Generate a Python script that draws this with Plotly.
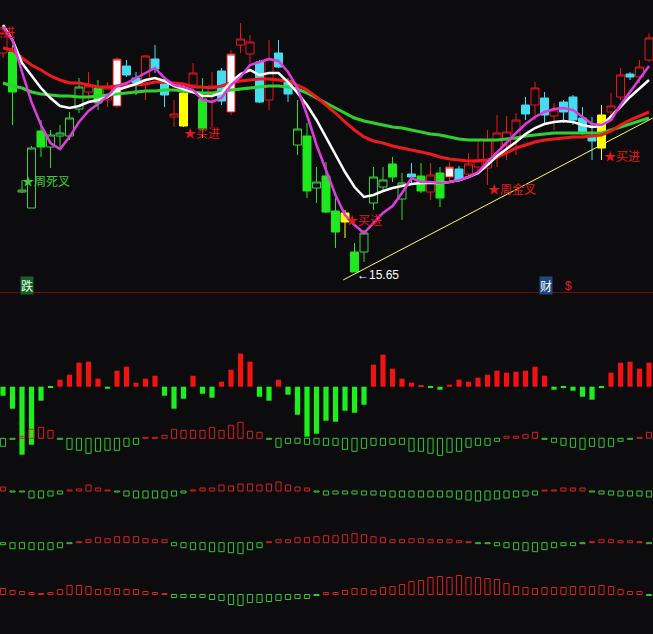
import plotly.graph_objects as go

W, H = 653, 634
BG = "#0c0c0e"

# ---------------- price data (69 sessions) ----------------
idx = list(range(69))

opens = [20.03, 20.05, 17.25, 16.93, 18.47, 18.15, 18.37, 18.37, 18.91, 19.25,
         19.33, 19.09, 18.97, 19.77, 19.53, 19.49, 19.91, 19.41, 18.75, 19.23,
         19.39, 19.11, 19.19, 19.67, 18.85, 20.19, 20.01, 19.85, 19.09, 20.03,
         19.47, 18.19, 18.37, 17.33, 17.57, 16.87, 16.83, 16.05, 16.05, 17.03,
         17.35, 17.81, 17.11, 17.61, 17.57, 17.25, 17.63, 17.55, 17.71, 17.61,
         17.75, 17.73, 17.99, 18.19, 18.35, 18.99, 18.99, 19.13, 18.77, 19.05,
         19.15, 18.73, 18.35, 18.13, 18.85, 19.15, 19.61, 19.55, 19.89]
highs = [20.59, 20.19, 17.49, 18.17, 18.69, 18.49, 18.59, 18.85, 19.53, 19.65,
         19.49, 19.45, 19.95, 19.89, 19.65, 19.99, 20.19, 19.55, 19.09, 19.39,
         19.83, 19.53, 19.65, 19.73, 20.09, 20.63, 20.39, 19.89, 20.29, 20.29,
         19.53, 19.09, 18.63, 17.75, 17.85, 17.13, 16.89, 16.23, 16.49, 17.75,
         17.75, 17.95, 17.63, 17.83, 17.83, 17.83, 17.75, 17.85, 17.77, 18.03,
         18.29, 18.49, 18.79, 18.77, 18.83, 19.15, 19.45, 19.25, 19.03, 19.09,
         19.19, 18.95, 18.75, 18.99, 19.23, 19.73, 19.65, 19.89, 20.43]
lows = [19.93, 18.59, 17.23, 16.93, 17.95, 17.73, 18.15, 18.29, 18.83, 19.09,
        18.89, 18.95, 18.93, 19.55, 19.19, 19.09, 19.63, 18.95, 18.55, 18.55,
        19.33, 18.33, 18.53, 18.99, 18.79, 20.03, 19.83, 19.03, 18.89, 19.73,
        19.05, 17.99, 17.13, 17.03, 16.83, 16.13, 16.33, 15.65, 15.85, 16.89,
        17.25, 17.45, 16.69, 17.43, 17.23, 17.09, 16.95, 17.43, 17.45, 17.55,
        17.59, 17.39, 17.75, 17.89, 17.99, 18.69, 18.69, 18.63, 18.49, 18.63,
        18.59, 18.39, 17.89, 17.89, 18.79, 19.09, 19.49, 19.43, 19.85]
closes = [20.43, 19.25, 17.29, 18.13, 18.15, 18.39, 18.43, 18.73, 19.35, 19.37,
          19.03, 19.33, 19.91, 19.59, 19.43, 19.97, 19.71, 19.19, 18.81, 18.57,
          19.63, 18.51, 19.37, 19.07, 20.01, 20.31, 20.25, 19.05, 19.91, 19.75,
          19.21, 18.51, 17.27, 17.45, 16.85, 16.45, 16.65, 15.65, 16.43, 17.55,
          17.49, 17.55, 17.43, 17.55, 17.27, 17.59, 17.13, 17.75, 17.49, 17.81,
          17.89, 18.29, 18.43, 18.45, 18.69, 18.81, 19.33, 18.79, 18.89, 18.85,
          18.69, 18.45, 18.27, 18.79, 18.97, 19.59, 19.55, 19.75, 20.33]
# candle colour class: r=red hollow, gh=green hollow, gf=green filled, c=cyan, w=white, y=yellow
styles = ["r", "gf", "gh", "gh", "gf", "gh", "gh", "gh", "gh", "r",
          "gf", "r", "w", "c", "c", "r", "c", "c", "r", "y",
          "r", "gf", "r", "c", "w", "r", "r", "c", "r", "c",
          "c", "gh", "gf", "gh", "gf", "gf", "y", "gf", "gh", "gh",
          "gh", "gf", "gh", "c", "gf", "r", "gf", "w", "c", "r",
          "r", "r", "r", "r", "r", "c", "r", "c", "r", "c",
          "c", "c", "c", "y", "r", "r", "c", "r", "r"]

ma_magenta = [20.55, 20.29, 19.65, 19.05, 18.59, 18.23, 18.11, 18.35, 18.65, 18.87,
              19.01, 19.17, 19.37, 19.43, 19.53, 19.63, 19.73, 19.53, 19.39, 19.35,
              19.29, 19.09, 19.05, 19.13, 19.39, 19.55, 19.79, 19.85, 19.91, 19.87,
              19.65, 19.33, 18.79, 18.19, 17.69, 17.19, 16.79, 16.59, 16.43, 16.63,
              16.83, 16.97, 17.23, 17.53, 17.45, 17.45, 17.43, 17.45, 17.49, 17.55,
              17.65, 17.85, 18.05, 18.23, 18.43, 18.61, 18.75, 18.85, 18.91, 18.93,
              18.89, 18.75, 18.61, 18.59, 18.69, 18.99, 19.25, 19.53, 19.77]
ma_white = [20.59, 20.29, 19.83, 19.57, 19.33, 19.13, 18.97, 18.93, 18.97, 19.05,
            19.09, 19.15, 19.29, 19.35, 19.41, 19.49, 19.53, 19.47, 19.37, 19.31,
            19.25, 19.17, 19.17, 19.23, 19.45, 19.61, 19.69, 19.59, 19.63, 19.63,
            19.45, 19.23, 18.99, 18.69, 18.35, 17.99, 17.65, 17.35, 17.15, 17.19,
            17.27, 17.33, 17.37, 17.41, 17.43, 17.43, 17.43, 17.45, 17.49, 17.55,
            17.63, 17.79, 17.97, 18.11, 18.25, 18.41, 18.53, 18.61, 18.65, 18.67,
            18.65, 18.59, 18.55, 18.57, 18.75, 18.95, 19.15, 19.33, 19.49]
ma_red = [20.13, 20.09, 19.93, 19.79, 19.69, 19.57, 19.49, 19.43, 19.43, 19.39,
          19.35, 19.35, 19.37, 19.39, 19.39, 19.41, 19.45, 19.45, 19.43, 19.41,
          19.35, 19.35, 19.33, 19.37, 19.43, 19.47, 19.49, 19.51, 19.51, 19.49,
          19.47, 19.39, 19.29, 19.15, 18.99, 18.83, 18.65, 18.49, 18.35, 18.27,
          18.23, 18.17, 18.13, 18.09, 18.05, 18.01, 17.95, 17.91, 17.89, 17.87,
          17.87, 17.89, 17.95, 18.03, 18.13, 18.19, 18.25, 18.29, 18.31, 18.33,
          18.35, 18.35, 18.37, 18.39, 18.47, 18.59, 18.69, 18.77, 18.85]
ma_green = [19.43, 19.37, 19.33, 19.25, 19.21, 19.19, 19.17, 19.17, 19.15, 19.15,
            19.17, 19.19, 19.21, 19.23, 19.25, 19.27, 19.27, 19.29, 19.29, 19.27,
            19.25, 19.23, 19.23, 19.25, 19.29, 19.31, 19.33, 19.35, 19.37, 19.37,
            19.35, 19.31, 19.23, 19.13, 19.03, 18.93, 18.83, 18.73, 18.67, 18.63,
            18.59, 18.55, 18.53, 18.49, 18.45, 18.41, 18.39, 18.35, 18.31, 18.29,
            18.29, 18.29, 18.29, 18.31, 18.33, 18.37, 18.39, 18.41, 18.43, 18.43,
            18.43, 18.43, 18.43, 18.43, 18.49, 18.55, 18.61, 18.67, 18.73]

trend_x = [35.8, 68.4]
trend_y = [15.49, 18.73]

# ---------------- indicator rows ----------------
row1 = [-9, -22, -68, -58, -14, -1, 7, 12, 24, 25, 8, -2, 16, 20, 4, 8, 11, -9, -22, -12,
        11, -7, -11, 5, 17, 33, 25, -10, -14, 7, -8, -28, -50, -47, -34,
        -35, -24, -26, -18, 22, 32, 18, 8, 4, 1, -1, -3, 2, 7, 5, 9, 12, 16, 14, 15,
        16, 20, 11, -3, -1, -4, -10, -13, -1, 14, 24, 25, 18, 24]
row2 = [-8, -1, 2, 9, 11, 8, -1, -11, -12, -15, -13, -12, -12, -8, -6, 1, 1, 3, 9, 8,
        8, 8, 11, 8, 13, 16, 7, 6, -1, -9, -5, -5, -6, -6, -7,
        -7, -11, -13, -10, -7, -7, -6, -6, -13, -13, -15, -17, -14, -13, -9, -7, -7, -3, 2, 2,
        4, 6, -1, -4, -7, -9, -11, -8, -9, -8, -3, -1, 1, 6]
row3 = [4, -1, -1, -7, -7, -5, -3, 1, 2, 6, 3, 1, -1, -5, -7, -7, -7, -7, -5, -2,
        1, 3, 3, 6, 5, 7, 7, 6, 7, 9, 6, 4, 3, -1, -4,
        -3, -3, -3, -4, -4, -5, -6, -6, -6, -6, -6, -6, -6, -8, -9, -10, -9, -8, -7, -6,
        -5, -4, 1, 1, 3, 3, 3, -1, -3, -4, -5, -5, -5, -6]
row4 = [-2, -6, -6, -7, -7, -7, -5, -1, 1, 3, 5, 4, 6, 6, 6, 4, 3, 3, -3, -5,
        -7, -7, -9, -9, -10, -11, -7, -5, 1, 3, 3, 5, 5, 6, 7,
        7, 8, 9, 8, 6, 5, 3, 3, 4, 4, 3, 3, 3, 2, 1, -1, -1, -3, -5, -7,
        -8, -9, -7, -5, -3, -3, -1, 1, 3, 3, 2, 2, 1, -1]
row5 = [6, 4, 3, 2, 1, 2, 5, 9, 9, 8, 5, 6, 6, 5, 5, 3, 2, 1, -3, -3,
        -3, -3, -5, -6, -10, -11, -8, -8, -7, -6, -5, -4, -4, -1, 2,
        2, 4, 6, 6, 4, 7, 8, 10, 13, 14, 17, 18, 17, 19, 17, 17, 16, 15, 11, 8,
        7, 6, 7, 7, 7, 8, 8, 8, 9, 8, 5, 3, 3, -1]

# ---------------- styling / layout constants ----------------
X0, STEP = 3.0, 9.5          # pixel of first candle, pixels per session
PRICE_BOTTOM_PX = 292
PX_PER_UNIT = 50.0
PRICE_TOP = 21.09

CANDLE_STYLE = {
    "r": ("#e4161c", BG),
    "gh": ("#3ccf3c", BG),
    "gf": ("#1ee81e", "#1ee81e"),
    "c": ("#44dcef", "#44dcef"),
    "w": ("#e4161c", "#ffffff"),
    "y": ("#ffff00", "#ffff00"),
}


def dom(top_px, bot_px):
    return [1 - bot_px / H, 1 - top_px / H]


fig = go.Figure()

for key, (lc, fc) in CANDLE_STYLE.items():
    sel = [i for i in idx if styles[i] == key]
    fig.add_trace(go.Candlestick(
        x=sel,
        open=[opens[i] for i in sel], high=[highs[i] for i in sel],
        low=[lows[i] for i in sel], close=[closes[i] for i in sel],
        increasing=dict(line=dict(color=lc, width=1), fillcolor=fc),
        decreasing=dict(line=dict(color=lc, width=1), fillcolor=fc),
        whiskerwidth=0, showlegend=False, hoverinfo="skip",
        xaxis="x", yaxis="y"))

for vals, col, w in [(ma_green, "#2fd02f", 3), (ma_red, "#ee1a1a", 3),
                     (ma_white, "#ffffff", 2.5), (ma_magenta, "#dd3cdd", 2.5)]:
    fig.add_trace(go.Scatter(x=idx, y=vals, mode="lines",
                             line=dict(color=col, width=w),
                             showlegend=False, hoverinfo="skip",
                             xaxis="x", yaxis="y"))

fig.add_trace(go.Scatter(x=trend_x, y=trend_y, mode="lines",
                         line=dict(color="#ffff55", width=1),
                         showlegend=False, hoverinfo="skip", xaxis="x", yaxis="y"))

# indicator rows
rows = [row1, row2, row3, row4, row5]
bases = [386.7, 438.3, 491.0, 542.7, 594.5]
BW = 5.2 / STEP
layout_axes = {}
for r, vals in enumerate(rows):
    yname = "y%d" % (r + 2)
    pos = [v if v > 0 else None for v in vals]
    neg = [v if v < 0 else None for v in vals]
    if r == 0:
        top, bot = 300.0, 470.0
        for data, col in [(pos, "#f21212"), (neg, "#1cf01c")]:
            fig.add_trace(go.Bar(x=idx, y=data, width=BW,
                                 marker=dict(color=col, line=dict(width=0)),
                                 showlegend=False, hoverinfo="skip",
                                 xaxis="x", yaxis=yname))
    else:
        top, bot = bases[r] - 25, bases[r] + 25
        for data, col in [(pos, "#d82020"), (neg, "#34c834")]:
            fig.add_trace(go.Bar(x=idx, y=data, width=BW,
                                 marker=dict(color="rgba(0,0,0,0)",
                                             line=dict(color=col, width=1)),
                                 showlegend=False, hoverinfo="skip",
                                 xaxis="x", yaxis=yname))
    b = bases[r]
    layout_axes["yaxis%d" % (r + 2)] = dict(
        domain=dom(top, bot), range=[-(bot - b), b - top], anchor="x",
        visible=False, showgrid=False, zeroline=False, fixedrange=True)

price_range = [PRICE_TOP - PRICE_BOTTOM_PX / PX_PER_UNIT, PRICE_TOP]

annotations = []
cjk = "Noto Sans CJK SC"
chart_labels = [
    ("★周死叉", 1.75, 17.49, "#3ccf3c"),
    ("★买进", 18.85, 18.45, "#e4161c"),
    ("★买进", 35.9, 16.71, "#e4161c"),
    ("★周金叉", 50.85, 17.32, "#e4161c"),
    ("★买进", 63.05, 17.99, "#e4161c"),
]
for t, x, y, c in chart_labels:
    annotations.append(dict(text=t, x=x, y=y, xref="x", yref="y", xanchor="left",
                            yanchor="middle", showarrow=False,
                            font=dict(family=cjk, size=12, color=c)))
annotations.append(dict(text="★买进", x=1.5, y=20.47, xref="x", yref="y",
                        xanchor="right", yanchor="middle", showarrow=False,
                        font=dict(family=cjk, size=12, color="#e4161c")))
annotations.append(dict(text="←15.65", x=37.0, y=15.59, xref="x", yref="y",
                        xanchor="left", yanchor="middle", showarrow=False,
                        font=dict(family="Liberation Sans, Arial", size=12, color="#ffffff")))
annotations.append(dict(text="跌", x=19.5 / W, y=1 - 285 / H, xref="paper", yref="paper",
                        showarrow=False, bgcolor="#16602a", borderpad=0,
                        font=dict(family=cjk, size=12, color="#e6ffe6")))
annotations.append(dict(text="财", x=553 / W, y=1 - 285 / H, xref="paper", yref="paper",
                        showarrow=False, bgcolor="#1c4a86", borderpad=0,
                        font=dict(family=cjk, size=12, color="#ffffff")))
annotations.append(dict(text="$", x=574 / W, y=1 - 286 / H, xref="paper", yref="paper",
                        showarrow=False,
                        font=dict(family="Liberation Sans, Arial", size=12, color="#e02020")))

fig.update_layout(
    width=W, height=H, autosize=False,
    margin=dict(l=0, r=0, t=0, b=0, pad=0),
    paper_bgcolor=BG, plot_bgcolor="rgba(0,0,0,0)",
    showlegend=False, barmode="overlay",
    boxgap=0.16, boxgroupgap=0,
    xaxis=dict(range=[(0 - X0) / STEP, (W - X0) / STEP], visible=False,
               showgrid=False, zeroline=False, rangeslider=dict(visible=False),
               anchor="y", fixedrange=True),
    yaxis=dict(domain=dom(0, PRICE_BOTTOM_PX), range=price_range, visible=False,
               showgrid=False, zeroline=False, anchor="x", fixedrange=True),
    annotations=annotations,
    shapes=[dict(type="line", xref="paper", yref="paper", x0=0, x1=1,
                 y0=1 - 292.5 / H, y1=1 - 292.5 / H,
                 line=dict(color="#7a0a0a", width=1))],
    **layout_axes,
)

page_css = ("document.body.style.margin='0';document.body.style.padding='0';"
            "document.body.style.overflow='hidden';"
            "document.body.style.background='%s';" % BG)
fig.write_html("out.html", config={"displayModeBar": False}, post_script=page_css)
